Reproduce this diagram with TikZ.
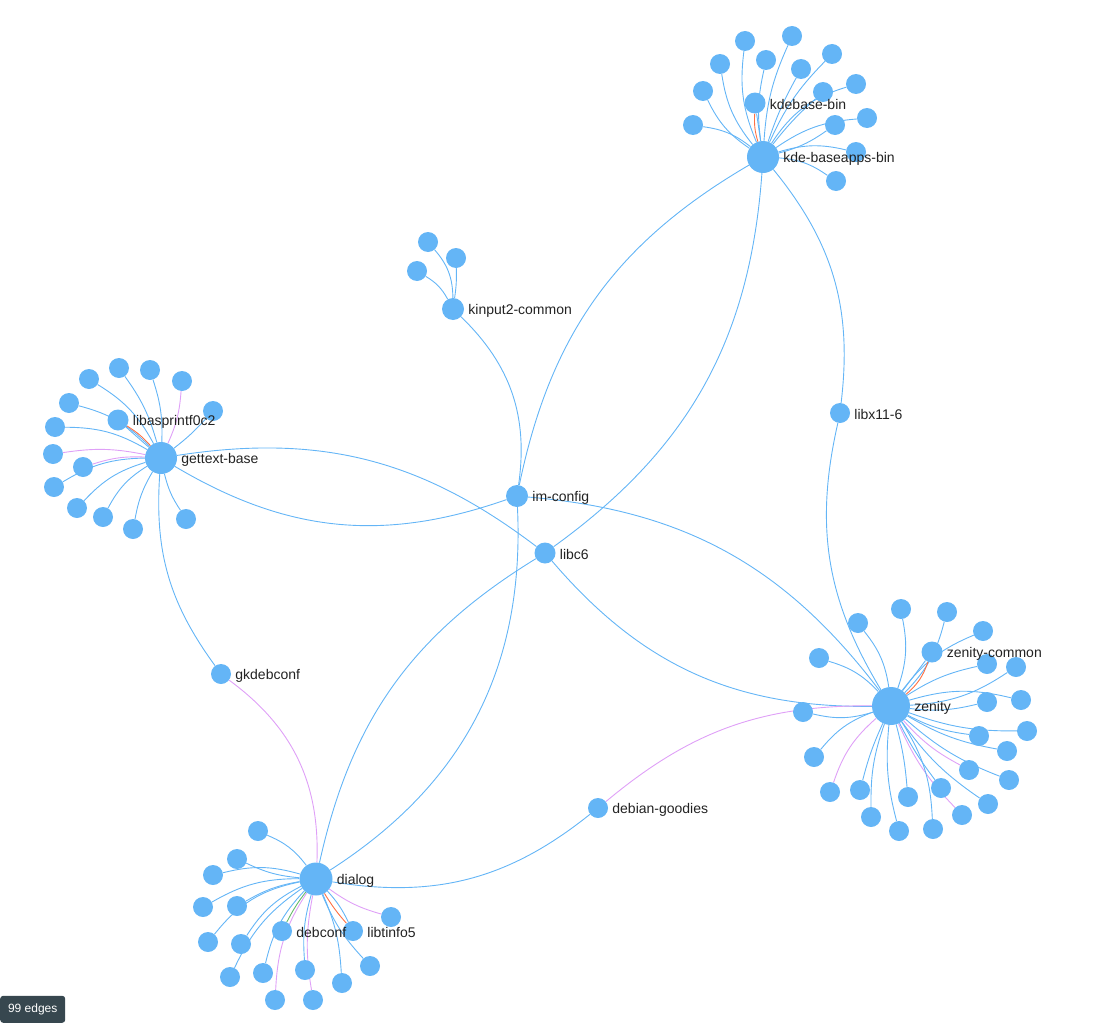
\documentclass[tikz,border=0pt]{standalone}
\usepackage{fontspec}
\setmainfont{Liberation Sans}
\usepackage{tikz}
\usetikzlibrary{backgrounds}
\definecolor{pkgblue}{HTML}{64B5F6}
\definecolor{recpurple}{HTML}{DFA0F7}
\definecolor{conflred}{HTML}{FF7043}
\definecolor{suggreen}{HTML}{66BB6A}
\definecolor{badgegray}{HTML}{37474F}
\definecolor{labelink}{HTML}{222222}

\begin{document}
\begin{tikzpicture}[x=1pt,y=-1pt,line join=round,font=\fontsize{14}{16}\selectfont,
  pkg/.style={circle,fill=pkgblue,inner sep=0pt,minimum size=20pt},
  hub/.style={pkg,minimum size=32pt},
  lbl/.style={text=labelink,inner sep=1pt,anchor=west,yshift=-1.5pt},
  dep/.style={draw=pkgblue,line width=0.9pt},
  rec/.style={draw=recpurple,line width=0.9pt},
  conf/.style={draw=conflred,line width=0.9pt},
  sugg/.style={draw=suggreen,line width=0.9pt}]
\useasboundingbox (0,0) rectangle (1103,1025);
% --- package nodes
\node[hub] (kde) at (763,157) {};
\node[pkg,minimum size=21pt] (kdebin) at (755,103) {};
\node[hub] (gettext) at (161,458) {};
\node[pkg,minimum size=21pt] (asprintf) at (118,420) {};
\node[hub,minimum size=38pt] (zenity) at (891,706) {};
\node[pkg,minimum size=21pt] (zcommon) at (932,652) {};
\node[hub,minimum size=33pt] (dialog) at (316,879) {};
\node[pkg] (debconf) at (282,931) {};
\node[pkg] (libtinfo) at (353,931) {};
\node[pkg,minimum size=22pt] (kinput) at (453,309) {};
\node[pkg,minimum size=22pt] (im) at (517,496) {};
\node[pkg,minimum size=21pt] (libc) at (545,553) {};
\node[pkg] (libx) at (840,413) {};
\node[pkg] (gkdeb) at (221,674) {};
\node[pkg] (goodies) at (598,808) {};
% --- leaves of each hub
\foreach \i/\x/\y/\b in {1/745/41/-15,2/792/36/-10,3/720/64/-15,4/766/60/-10,5/832/54/-10,6/801/69/-5,7/703/91/-15,8/856/84/-20,9/823/92/-5,10/693/125/15,11/835/125/10,12/867/118/-15,13/856/152/-15,14/836/181/-15} {\node[pkg] (k\i) at (\x,\y) {}; \begin{scope}[on background layer]\draw[dep] (kde) to[bend right=\b] (k\i);\end{scope}}
\foreach \i/\x/\y/\b/\s in {1/119/368/10/dep,2/150/370/10/dep,3/182/381/10/rec,4/89/379/15/dep,5/69/403/15/dep,6/213/411/5/dep,7/55/427/15/dep,8/53/454/10/rec,9/83/467/10/rec,10/54/487/15/dep,11/77/508/15/dep,12/103/517/15/dep,13/133/529/10/dep,14/186/519/10/dep} {\node[pkg] (g\i) at (\x,\y) {}; \begin{scope}[on background layer]\draw[\s] (gettext) to[bend right=\b] (g\i);\end{scope}}
\foreach \i/\x/\y/\b/\s in {1/901/609/15/dep,2/947/612/15/dep,3/858/623/15/dep,4/983/631/-15/dep,5/819/658/15/dep,6/987/664/-10/dep,7/1016/667/15/dep,8/987/702/10/dep,9/1021/700/-15/dep,10/803/712/-15/dep,11/1027/731/10/dep,12/979/736/10/dep,13/1007/751/10/dep,14/814/757/15/dep,15/969/770/10/rec,16/1009/780/10/dep,17/830/792/15/rec,18/860/790/5/dep,19/908/797/-5/dep,20/941/788/5/dep,21/988/804/10/dep,22/962/815/10/rec,23/871/817/10/dep,24/899/831/10/dep,25/933/829/-15/dep} {\node[pkg] (z\i) at (\x,\y) {}; \begin{scope}[on background layer]\draw[\s] (zenity) to[bend right=\b] (z\i);\end{scope}}
\foreach \i/\x/\y/\b/\s in {1/258/831/15/dep,2/237/859/-10/dep,3/213/875/15/dep,4/203/907/15/dep,5/237/906/10/dep,6/208/942/20/dep,7/241/944/15/dep,8/230/977/15/dep,9/263/973/15/dep,10/275/1000/15/rec,11/305/970/10/dep,12/313/1000/10/rec,13/342/983/-10/dep,14/370/966/10/dep,15/391/917/10/rec} {\node[pkg] (d\i) at (\x,\y) {}; \begin{scope}[on background layer]\draw[\s] (dialog) to[bend right=\b] (d\i);\end{scope}}
\foreach \i/\x/\y/\b in {1/428/242/20,2/456/258/5,3/417/271/15} {\node[pkg] (n\i) at (\x,\y) {}; \begin{scope}[on background layer]\draw[dep] (kinput) to[bend right=\b] (n\i);\end{scope}}
% --- links between packages
\begin{scope}[on background layer]
\draw[dep] (kde) -- (kdebin); \draw[conf] (kde) to[bend right=-10] (kdebin);
\draw[dep] (gettext) -- (asprintf); \draw[conf] (gettext) to[bend right=8] (asprintf);
\draw[dep] (zenity) -- (zcommon); \draw[conf] (zenity) to[bend right=15] (zcommon);
\draw[sugg] (dialog) to[bend right=5] (debconf);
\draw[dep] (dialog) to[bend right=-8] (libtinfo); \draw[conf] (dialog) to[bend right=5] (libtinfo);
\draw[dep] (kde) to[bend right=24] (im);
\draw[dep] (kde) to[bend right=-25] (libc);
\draw[dep] (kde) to[bend right=-23] (libx);
\draw[dep] (libx) to[bend right=22] (zenity);
\draw[dep] (kinput) to[bend right=-27] (im);
\draw[dep] (gettext) to[bend right=25] (im);
\draw[dep] (gettext) to[bend right=-23] (libc);
\draw[dep] (gettext) to[bend right=20] (gkdeb);
\draw[rec] (gkdeb) to[bend right=-28] (dialog);
\draw[dep] (im) to[bend right=-24] (zenity);
\draw[dep] (libc) to[bend right=25] (zenity);
\draw[dep] (im) to[bend right=-30] (dialog);
\draw[dep] (libc) to[bend right=23] (dialog);
\draw[dep] (goodies) to[bend right=-24] (dialog);
\draw[rec] (goodies) to[bend right=-20] (zenity);
\end{scope}
% --- labels
\node[lbl] (kdetxt) at ([xshift=3pt]kde.east) {kde-baseapps-bin};
\node[lbl] (kdebintxt) at ([xshift=3pt]kdebin.east) {kdebase-bin};
\node[lbl] (gettexttxt) at ([xshift=3pt]gettext.east) {gettext-base};
\node[lbl] (asprintftxt) at ([xshift=3pt]asprintf.east) {libasprintf0c2};
\node[lbl] (zenitytxt) at ([xshift=3pt]zenity.east) {zenity};
\node[lbl] (zcommontxt) at ([xshift=3pt]zcommon.east) {zenity-common};
\node[lbl] (dialogtxt) at ([xshift=3pt]dialog.east) {dialog};
\node[lbl] (debconftxt) at ([xshift=3pt]debconf.east) {debconf};
\node[lbl] (libtinfotxt) at ([xshift=3pt]libtinfo.east) {libtinfo5};
\node[lbl] (kinputtxt) at ([xshift=3pt]kinput.east) {kinput2-common};
\node[lbl] (imtxt) at ([xshift=3pt]im.east) {im-config};
\node[lbl] (libctxt) at ([xshift=3pt]libc.east) {libc6};
\node[lbl] (libxtxt) at ([xshift=3pt]libx.east) {libx11-6};
\node[lbl] (gkdebtxt) at ([xshift=3pt]gkdeb.east) {gkdebconf};
\node[lbl] (goodiestxt) at ([xshift=3pt]goodies.east) {debian-goodies};
% --- edge counter
\node[fill=badgegray,text=white,rounded corners=3pt,anchor=south west,minimum width=65pt,minimum height=27pt,inner sep=0pt,font=\fontsize{12}{14}\selectfont] (badge) at (0,1023) {99 edges};
\end{tikzpicture}
\end{document}
